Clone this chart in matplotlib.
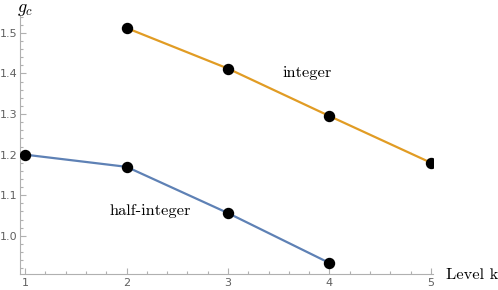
import matplotlib
matplotlib.use('Agg')
import matplotlib.pyplot as plt
from matplotlib.ticker import MultipleLocator

# Data
k_integer = [2, 3, 4, 5]
g_integer = [1.512, 1.412, 1.295, 1.180]
k_half = [1, 2, 3, 4]
g_half = [1.200, 1.170, 1.056, 0.933]

blue = '#5E81B5'
orange = '#E19C24'
axis_gray = '#b0b0b0'
label_gray = '#606060'

fig = plt.figure(figsize=(4.98, 2.90), dpi=100)
ax = fig.add_axes([20 / 498, 16 / 290, 413 / 498, 259 / 290])

ax.plot(k_half, g_half, color=blue, linewidth=1.6, zorder=2)
ax.plot(k_integer, g_integer, color=orange, linewidth=1.6, zorder=2)
ax.plot(k_half, g_half, 'o', color='black', markersize=7.2, zorder=3)
ax.plot(k_integer, g_integer, 'o', color='black', markersize=7.2, zorder=3)

ax.set_xlim(0.95, 5.02)
ax.set_ylim(0.906, 1.544)

ax.xaxis.set_major_locator(MultipleLocator(1))
ax.xaxis.set_minor_locator(MultipleLocator(0.2))
ax.yaxis.set_major_locator(MultipleLocator(0.1))
ax.yaxis.set_minor_locator(MultipleLocator(0.02))
ax.yaxis.set_major_formatter(lambda v, p: f'{v:.1f}')

for side in ['top', 'right']:
    ax.spines[side].set_visible(False)
for side in ['left', 'bottom']:
    ax.spines[side].set_color(axis_gray)
    ax.spines[side].set_linewidth(0.8)

ax.tick_params(which='both', direction='in', color=axis_gray, width=0.8,
               labelcolor=label_gray, labelsize=8, pad=3)
ax.tick_params(axis='y', pad=1.5)
ax.tick_params(which='major', length=4)
ax.tick_params(which='minor', length=2.5)

serif = ['cmr10', 'DejaVu Serif']
plt.rcParams['mathtext.fontset'] = 'cm'
ax.text(3.78, 1.402, 'integer', family=serif, fontsize=11.8, ha='center', va='center')
ax.text(2.23, 1.06, 'half-integer', family=serif, fontsize=11.8, ha='center', va='center')

fig.text(25 / 498, 1 - 9 / 290, r'$g_c$', fontsize=13, ha='center', va='center')
fig.text(446 / 498, 1 - 275 / 290, 'Level k', family=serif, fontsize=11.8,
         ha='left', va='center')

fig.savefig('out.png', dpi=100)
